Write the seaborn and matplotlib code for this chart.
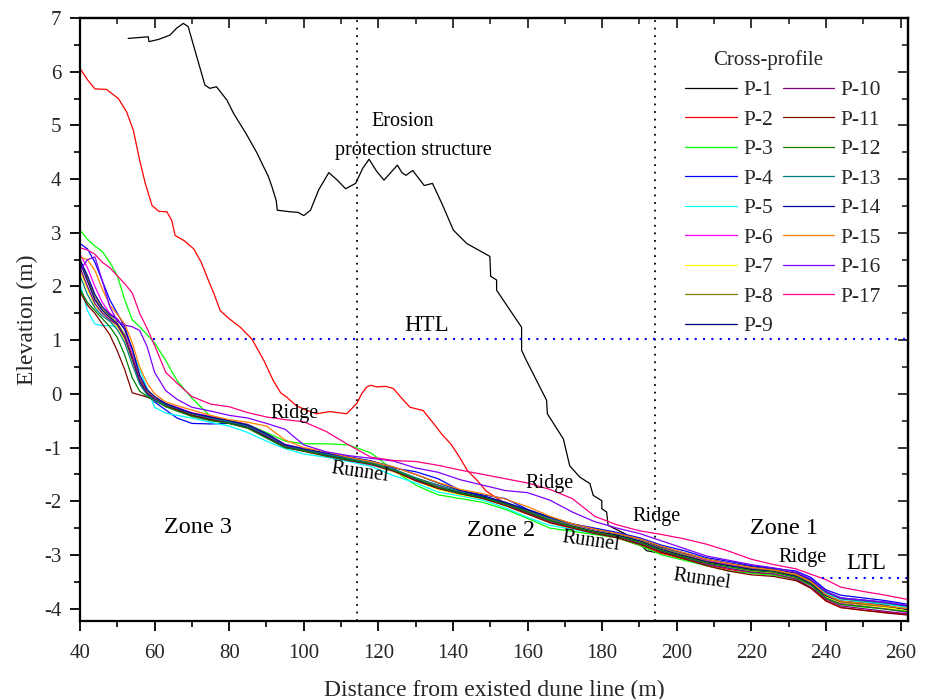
import matplotlib
matplotlib.use("Agg")
import matplotlib.pyplot as plt
import seaborn as sns
import numpy as np
import pandas as pd
from matplotlib.ticker import MultipleLocator

# ---------------- data ----------------
profiles = ["P-1", "P-2", "P-3", "P-4", "P-5", "P-6", "P-7", "P-8", "P-9",
            "P-10", "P-11", "P-12", "P-13", "P-14", "P-15", "P-16", "P-17"]
colors = ["#000000", "#ff0000", "#00ff00", "#0000ff", "#00ffff", "#ff00ff",
          "#ffff00", "#808000", "#000080", "#800080", "#800000", "#008000",
          "#008080", "#0000a0", "#ff8000", "#8000ff", "#ff0080"]

p1_x = [52.9, 58.3, 58.5, 61.0, 64.1, 65.9, 67.7, 69.0, 71.3, 73.5, 74.8, 76.6, 79.4, 81.2,
        84.5, 87.5, 88.8, 90.5, 91.5, 92.6, 92.9, 96.5, 98.5, 100.0, 101.8, 104.0, 106.7,
        109.0, 111.2, 113.9, 115.8, 117.5, 119.5, 121.5, 123.3, 125.1, 126.3, 127.4, 129.2,
        132.3, 134.5, 137.0, 140.1, 143.7, 149.9, 150.1, 151.7, 151.7, 158.4, 158.4, 159.7,
        165.1, 165.3, 169.6, 171.3, 174.0, 176.7, 177.6, 179.9, 179.9, 181.2, 181.6, 186.0,
        190.1, 191.9, 194.1, 202, 208, 214, 220, 226, 232, 236, 240, 244, 250, 256, 262]
p1_y = [6.62, 6.65, 6.56, 6.60, 6.68, 6.81, 6.90, 6.84, 6.28, 5.75, 5.69, 5.72, 5.47, 5.22,
        4.85, 4.48, 4.29, 4.05, 3.85, 3.60, 3.42, 3.39, 3.38, 3.32, 3.42, 3.80, 4.12,
        3.98, 3.82, 3.92, 4.20, 4.37, 4.15, 3.98, 4.12, 4.26, 4.12, 4.07, 4.16,
        3.88, 3.92, 3.55, 3.05, 2.80, 2.56, 2.19, 2.12, 1.93, 1.24, 0.81, 0.62,
        -0.12, -0.37, -0.84, -1.34, -1.55, -1.67, -1.89, -1.99, -2.14, -2.20, -2.45, -2.60,
        -2.79, -2.92, -2.95, -3.02, -3.12, -3.18, -3.25, -3.30, -3.38, -3.50, -3.74, -3.87,
        -3.92, -3.96, -4.03]

p2_x = [40.0, 42.0, 44.0, 47.1, 50.3, 52.5, 54.3, 56.0, 57.5, 59.3, 61.1, 63.3, 64.6, 65.5,
        68.0, 70.5, 72.5, 74.1, 76.0, 77.6, 80.0, 83.0, 86.1, 89.3, 91.8, 93.8, 95.4, 98.0,
        100.5, 103.4, 107.0, 111.5, 114.2, 115.5, 116.9, 118.0, 119.5, 122.0, 124.0, 126.5,
        128.5, 132.0, 134.9, 137.0, 139.5, 141.5, 143.9, 146.6, 148.9, 154, 160, 166, 172,
        178, 184, 190, 196, 202, 208, 214, 220, 226, 232, 236, 240, 244, 250, 256, 262]
p2_y = [6.06, 5.85, 5.68, 5.67, 5.50, 5.25, 4.91, 4.35, 3.92, 3.51, 3.40, 3.39, 3.23, 2.95,
        2.85, 2.70, 2.45, 2.17, 1.85, 1.55, 1.40, 1.24, 1.02, 0.62, 0.25, 0.02, -0.06, -0.22,
        -0.30, -0.37, -0.33, -0.37, -0.18, 0.00, 0.13, 0.16, 0.13, 0.14, 0.10, -0.10,
        -0.25, -0.31, -0.56, -0.75, -0.94, -1.15, -1.43, -1.62, -1.81, -2.04, -2.22, -2.40, -2.50,
        -2.60, -2.68, -2.82, -2.97, -3.08, -3.18, -3.27, -3.33, -3.36, -3.46, -3.62, -3.86,
        -3.98, -4.03, -4.07, -4.11]

# common distance grid of profiles P-3 ... P-17
grid_x = [40, 42, 44, 46, 48, 50, 52, 54, 56, 58, 60, 63, 66, 70, 75, 80, 85, 90, 95, 100,
          106, 112, 118, 124, 130, 136, 142, 148, 154, 160, 166, 172, 178, 184, 190, 196,
          202, 208, 214, 220, 226, 232, 236, 240, 244, 250, 256, 262]

p3 = [3.05, 2.88, 2.75, 2.65, 2.45, 2.2, 1.75, 1.38, 1.25, 1.1, 0.95, 0.62, 0.25, -0.08, -0.42,
      -0.5, -0.57, -0.72, -0.88, -0.93, -0.93, -0.95, -1.1, -1.42, -1.7, -1.88, -1.95, -2.02,
      -2.15, -2.32, -2.5, -2.56, -2.62, -2.68, -2.82, -3.0, -3.1, -3.2, -3.3, -3.34, -3.38,
      -3.45, -3.56, -3.8, -3.92, -3.97, -4.0, -4.05]
p4 = [2.8, 2.7, 2.45, 2.1, 1.75, 1.5, 1.25, 0.8, 0.3, 0.02, -0.15, -0.3, -0.45, -0.55, -0.56,
      -0.55, -0.6, -0.78, -0.98, -1.06, -1.1, -1.17, -1.25, -1.38, -1.45, -1.58, -1.8, -1.88,
      -1.95, -2.15, -2.3, -2.42, -2.5, -2.58, -2.68, -2.82, -2.92, -3.05, -3.12, -3.2, -3.25,
      -3.3, -3.42, -3.65, -3.75, -3.8, -3.85, -3.92]
p5 = [2.05, 1.55, 1.3, 1.27, 1.27, 1.25, 1.1, 0.8, 0.45, 0.1, -0.25, -0.36, -0.4, -0.45, -0.53,
      -0.6, -0.72, -0.88, -1.02, -1.12, -1.18, -1.26, -1.35, -1.52, -1.66, -1.83, -1.9, -1.98,
      -2.12, -2.3, -2.45, -2.52, -2.6, -2.66, -2.78, -2.92, -3.05, -3.16, -3.24, -3.3, -3.35,
      -3.4, -3.52, -3.72, -3.85, -3.88, -3.92, -3.98]
p6 = [2.6, 2.35, 2.0, 1.7, 1.5, 1.4, 1.2, 0.75, 0.3, 0.05, -0.08, -0.18, -0.25, -0.35, -0.42,
      -0.5, -0.57, -0.74, -0.94, -1.02, -1.12, -1.2, -1.28, -1.4, -1.58, -1.72, -1.82, -1.9,
      -2.02, -2.18, -2.33, -2.44, -2.53, -2.6, -2.7, -2.86, -2.98, -3.1, -3.18, -3.25, -3.28,
      -3.36, -3.5, -3.75, -3.9, -3.95, -4.0, -4.08]
p7 = [2.3, 1.95, 1.65, 1.5, 1.38, 1.25, 1.0, 0.6, 0.22, 0.0, -0.12, -0.22, -0.3, -0.38, -0.47,
      -0.54, -0.62, -0.8, -0.98, -1.05, -1.14, -1.22, -1.32, -1.45, -1.62, -1.78, -1.88, -1.95,
      -2.08, -2.24, -2.4, -2.5, -2.58, -2.65, -2.76, -2.92, -3.03, -3.14, -3.22, -3.3, -3.33,
      -3.42, -3.55, -3.78, -3.88, -3.93, -3.98, -4.03]
p8 = [2.5, 2.15, 1.8, 1.58, 1.45, 1.32, 1.1, 0.7, 0.28, 0.05, -0.08, -0.2, -0.28, -0.36, -0.44,
      -0.5, -0.58, -0.74, -0.95, -1.04, -1.13, -1.21, -1.28, -1.4, -1.58, -1.7, -1.83, -1.92,
      -2.04, -2.18, -2.34, -2.46, -2.56, -2.63, -2.73, -2.88, -3.0, -3.12, -3.2, -3.26, -3.3,
      -3.38, -3.52, -3.76, -3.88, -3.92, -3.96, -4.0]
p9 = [2.45, 2.1, 1.75, 1.55, 1.42, 1.3, 1.05, 0.65, 0.22, 0.0, -0.1, -0.2, -0.28, -0.4, -0.48,
      -0.54, -0.62, -0.8, -0.99, -1.05, -1.14, -1.22, -1.3, -1.42, -1.6, -1.74, -1.84, -1.92,
      -2.05, -2.2, -2.36, -2.47, -2.56, -2.63, -2.74, -2.9, -3.02, -3.13, -3.2, -3.27, -3.31,
      -3.4, -3.54, -3.76, -3.86, -3.9, -3.94, -4.02]
p10 = [2.35, 2.0, 1.68, 1.5, 1.38, 1.28, 1.05, 0.68, 0.25, 0.02, -0.1, -0.22, -0.3, -0.4, -0.46,
       -0.52, -0.6, -0.78, -0.97, -1.06, -1.15, -1.24, -1.32, -1.44, -1.6, -1.76, -1.86, -1.94,
       -2.06, -2.22, -2.38, -2.48, -2.58, -2.66, -2.78, -2.93, -3.05, -3.17, -3.25, -3.32, -3.35,
       -3.45, -3.6, -3.82, -3.95, -4.0, -4.05, -4.1]
p11 = [1.9, 1.65, 1.5, 1.3, 1.1, 0.8, 0.45, 0.02, -0.02, -0.06, -0.12, -0.22, -0.3, -0.4, -0.48,
       -0.55, -0.64, -0.82, -1.0, -1.07, -1.16, -1.24, -1.3, -1.43, -1.62, -1.76, -1.86, -1.95,
       -2.08, -2.24, -2.4, -2.5, -2.6, -2.68, -2.8, -2.95, -3.07, -3.2, -3.3, -3.37, -3.4,
       -3.48, -3.62, -3.85, -3.98, -4.03, -4.08, -4.12]
p12 = [1.95, 1.7, 1.55, 1.4, 1.25, 1.05, 0.72, 0.3, 0.05, -0.05, -0.12, -0.24, -0.32, -0.42,
       -0.5, -0.55, -0.64, -0.82, -1.0, -1.06, -1.15, -1.23, -1.3, -1.42, -1.58, -1.74, -1.85,
       -1.93, -2.05, -2.2, -2.36, -2.47, -2.57, -2.65, -2.76, -2.92, -3.04, -3.15, -3.22, -3.29,
       -3.32, -3.42, -3.56, -3.8, -3.92, -3.96, -4.01, -4.06]
p13 = [2.2, 1.85, 1.6, 1.45, 1.35, 1.2, 0.95, 0.55, 0.18, -0.02, -0.12, -0.2, -0.27, -0.37,
       -0.45, -0.52, -0.6, -0.76, -0.96, -1.03, -1.12, -1.2, -1.28, -1.4, -1.56, -1.7, -1.82,
       -1.9, -2.02, -2.16, -2.32, -2.43, -2.52, -2.6, -2.7, -2.85, -2.97, -3.08, -3.16, -3.23,
       -3.27, -3.35, -3.48, -3.7, -3.82, -3.86, -3.9, -3.96]
p14 = [2.5, 2.2, 1.85, 1.62, 1.48, 1.38, 1.2, 0.85, 0.35, 0.08, -0.05, -0.18, -0.26, -0.36,
       -0.43, -0.5, -0.58, -0.74, -0.95, -1.02, -1.1, -1.18, -1.25, -1.36, -1.5, -1.66, -1.8,
       -1.9, -2.02, -2.16, -2.3, -2.42, -2.52, -2.6, -2.7, -2.85, -2.96, -3.08, -3.15, -3.22,
       -3.27, -3.34, -3.46, -3.68, -3.8, -3.84, -3.88, -3.95]
p15 = [2.55, 2.5, 2.3, 1.95, 1.65, 1.48, 1.3, 0.95, 0.5, 0.2, 0.0, -0.15, -0.22, -0.3, -0.4,
       -0.48, -0.53, -0.6, -0.86, -1.0, -1.08, -1.18, -1.26, -1.36, -1.5, -1.65, -1.78, -1.86,
       -1.96, -2.1, -2.28, -2.42, -2.52, -2.6, -2.7, -2.84, -2.96, -3.08, -3.16, -3.23, -3.28,
       -3.36, -3.5, -3.74, -3.86, -3.9, -3.95, -4.0]
p16 = [2.3, 2.5, 2.55, 2.1, 1.62, 1.35, 1.28, 1.25, 1.18, 0.88, 0.4, 0.06, -0.1, -0.25, -0.32,
       -0.4, -0.45, -0.55, -0.66, -0.95, -1.08, -1.15, -1.2, -1.25, -1.38, -1.46, -1.6, -1.7,
       -1.8, -1.84, -1.98, -2.2, -2.38, -2.5, -2.6, -2.74, -2.88, -3.02, -3.1, -3.18, -3.24,
       -3.32, -3.45, -3.68, -3.8, -3.84, -3.88, -3.94]
p17 = [2.72, 2.68, 2.6, 2.45, 2.35, 2.2, 2.05, 1.88, 1.5, 1.22, 0.9, 0.4, 0.2, -0.05, -0.19,
       -0.24, -0.35, -0.43, -0.48, -0.52, -0.7, -0.95, -1.18, -1.24, -1.26, -1.33, -1.42, -1.5,
       -1.58, -1.66, -1.78, -1.95, -2.28, -2.44, -2.55, -2.62, -2.7, -2.8, -2.93, -3.08, -3.18,
       -3.26, -3.36, -3.46, -3.6, -3.68, -3.75, -3.83]

HTL_level = 1.03
LTL_level = -3.42
zone_bounds = [114.2, 194.1]

series = [(p1_x, p1_y), (p2_x, p2_y)] + [(grid_x, v) for v in
          [p3, p4, p5, p6, p7, p8, p9, p10, p11, p12, p13, p14, p15, p16, p17]]

# ---------------- style ----------------
sns.set_theme(style="ticks")
plt.rcParams["font.family"] = ["Liberation Serif", "DejaVu Serif"]
plt.rcParams["axes.unicode_minus"] = False

fig = plt.figure(figsize=(9.3, 6.99), dpi=100)
ax = fig.add_axes([80 / 930, 1 - 621 / 699, 828 / 930, 603 / 699])

for name, col, (xs, ys) in zip(profiles, colors, series):
    df = pd.DataFrame({"x": xs, "y": ys})
    sns.lineplot(data=df, x="x", y="y", ax=ax, color=col, lw=0.9, label=name,
                 estimator=None, sort=False)

# reference lines
for xv in zone_bounds:
    ax.axvline(xv, color="black", ls=(0, (1, 3.2)), lw=1.3, zorder=1)
ax.plot([59.5, 262], [HTL_level, HTL_level], color="#0000ff", ls=(0, (1, 3)), lw=1.5)
ax.plot([239, 262], [LTL_level, LTL_level], color="#0000ff", ls=(0, (1, 3)), lw=1.5)

ax.set_xlim(40, 262)
ax.set_ylim(-4.23, 7)
ax.xaxis.set_major_locator(MultipleLocator(20))
ax.xaxis.set_minor_locator(MultipleLocator(10))
ax.yaxis.set_major_locator(MultipleLocator(1))
ax.yaxis.set_minor_locator(MultipleLocator(0.5))
ax.tick_params(axis="both", which="major", direction="out", length=7.5, width=1.3,
               labelsize=15, color="black", pad=6)
ax.tick_params(axis="x", which="major", pad=9)
ax.tick_params(axis="both", which="minor", direction="out", length=4.5, width=1.2,
               color="black")
for s in ax.spines.values():
    s.set_linewidth(1.6)
    s.set_color("black")
    s.set_visible(True)

sx = ax.secondary_xaxis("top")
sx.xaxis.set_major_locator(MultipleLocator(20))
sx.xaxis.set_minor_locator(MultipleLocator(10))
sx.tick_params(axis="x", which="major", direction="in", length=7.5, width=1.3, labeltop=False)
sx.tick_params(axis="x", which="minor", direction="in", length=4.5, width=1.2)
sx.spines["top"].set_linewidth(1.6)
sy = ax.secondary_yaxis("right")
sy.yaxis.set_major_locator(MultipleLocator(1))
sy.yaxis.set_minor_locator(MultipleLocator(0.5))
sy.tick_params(axis="y", which="major", direction="in", length=7.5, width=1.3, labelright=False)
sy.tick_params(axis="y", which="minor", direction="in", length=4.5, width=1.2)
sy.spines["right"].set_linewidth(1.6)

ax.set_xlabel("Distance from existed dune line (m)", fontsize=17, labelpad=12)
ax.set_ylabel("Elevation (m)", fontsize=17, labelpad=4)

# annotations
txt = dict(color="black", ha="center", va="center")
ax.text(126.4, 5.07, "Erosion", fontsize=14.5, **txt)
ax.text(129.5, 4.54, "protection structure", fontsize=14.5, **txt)
ax.text(133.0, 1.28, "HTL", fontsize=16.5, **txt)
ax.text(250.7, -3.16, "LTL", fontsize=16.5, **txt)
ax.text(97.4, -0.36, "Ridge", fontsize=14.5, **txt)
ax.text(165.8, -1.67, "Ridge", fontsize=14.5, **txt)
ax.text(194.7, -2.28, "Ridge", fontsize=14.5, **txt)
ax.text(233.6, -3.05, "Ridge", fontsize=14.5, **txt)
ax.text(115.0, -1.46, "Runnel", fontsize=14.5, rotation=-8, **txt)
ax.text(177.0, -2.75, "Runnel", fontsize=14.5, rotation=-8, **txt)
ax.text(206.8, -3.45, "Runnel", fontsize=14.5, rotation=-8, **txt)
ax.text(71.6, -2.49, "Zone 3", fontsize=17.5, **txt)
ax.text(152.8, -2.55, "Zone 2", fontsize=17.5, **txt)
ax.text(228.8, -2.51, "Zone 1", fontsize=17.5, **txt)

# legend
ax.text((768 - 80) / 828, (621 - 60) / 603, "Cross-profile", transform=ax.transAxes,
        fontsize=15, ha="center", va="center")
h, l = ax.get_legend_handles_labels()
ax.legend(h[:17], l[:17], ncol=2, frameon=False, loc="upper left",
          bbox_to_anchor=((685 - 80) / 828, (621 - 80) / 603), borderaxespad=0,
          borderpad=0, handlelength=2.4, handletextpad=0.3, columnspacing=0.45,
          labelspacing=0.44, fontsize=15.5)

fig.savefig("out.png", dpi=100)
